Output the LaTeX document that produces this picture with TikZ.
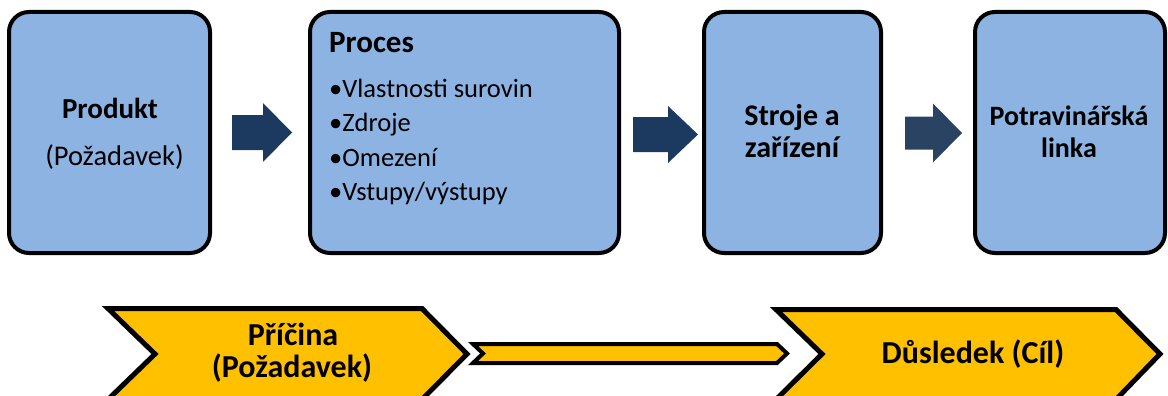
\documentclass[tikz,border=0pt]{standalone}
\usepackage{fontspec}
\setmainfont{Carlito}
\definecolor{boxblue}{HTML}{8DB3E2}
\definecolor{navy}{HTML}{1C3A5F}
\definecolor{navyb}{HTML}{2A4363}
\definecolor{gold}{HTML}{FFC000}
\begin{document}
\begin{tikzpicture}[x=1pt,y=-1pt,
  box/.style={draw=black, line width=4pt, fill=boxblue, rounded corners=20pt, inner sep=0pt},
  txt/.style={font=\fontsize{28.5}{32}\selectfont, inner sep=0pt, anchor=base},
  btxt/.style={font=\fontsize{29}{32}\selectfont\bfseries, inner sep=0pt, anchor=base},
  bigtxt/.style={font=\fontsize{32}{36}\selectfont\bfseries, inner sep=0pt, anchor=base},
  ltxt/.style={font=\fontsize{26.5}{30}\selectfont, inner sep=0pt, anchor=base west},
  chev/.style={draw=black, line width=5pt, fill=gold, line join=miter}]
\useasboundingbox (0,0) rectangle (1168,396);
\clip (0,0) rectangle (1168,396);
% boxes
\node[box, minimum width=201pt, minimum height=241pt] (b1) at (109.5,132.5) {};
\node[box, minimum width=309pt, minimum height=241pt] (b2) at (464.5,132.5) {};
\node[box, minimum width=177pt, minimum height=241pt] (b3) at (792.5,132.5) {};
\node[box, minimum width=190pt, minimum height=241pt] (b4) at (1070,132.5) {};
% box texts
\node[btxt] (t1a) at (110,118) {Produkt};
\node[txt] (t1b) at (114.5,165) {(Požadavek)};
\node[btxt, font=\fontsize{31}{34}\selectfont\bfseries, anchor=base west] (t2) at (329,53) {Proces};
\node[ltxt] (l1) at (329,97) {•Vlastnosti surovin};
\node[ltxt] (l2) at (329,131.5) {•Zdroje};
\node[ltxt] (l3) at (329,166) {•Omezení};
\node[ltxt] (l4) at (329,200.5) {•Vstupy/výstupy};
\node[btxt, font=\fontsize{30}{34}\selectfont\bfseries] (t3a) at (792,125) {Stroje a};
\node[btxt, font=\fontsize{30}{34}\selectfont\bfseries] (t3b) at (792,157) {zařízení};
\node[btxt, font=\fontsize{28}{32}\selectfont\bfseries] (t4a) at (1069,125) {Potravinářská};
\node[btxt, font=\fontsize{28}{32}\selectfont\bfseries] (t4b) at (1069,157) {linka};
% block arrows
\coordinate (a1) at (232,132.5);
\coordinate (a2) at (633,134.5);
\coordinate (a3) at (905,133);
\fill[navy] (a1) ++(0,-17.5) -- ++(31,0) -- ++(0,-12) -- ++(29,29.5) -- ++(-29,29.5) -- ++(0,-12) -- ++(-31,0) -- cycle;
\fill[navy] (a2) ++(0,-17.5) -- ++(35,0) -- ++(0,-11) -- ++(30,28.5) -- ++(-30,28.5) -- ++(0,-11) -- ++(-35,0) -- cycle;
\fill[navyb] (a3) ++(0,-16.5) -- ++(28,0) -- ++(0,-13) -- ++(29,29.5) -- ++(-29,29.5) -- ++(0,-13) -- ++(-28,0) -- cycle;
% chevrons
\draw[chev] (108,308.5) coordinate (c1) -- (422,308.5) -- (467,354) coordinate (c1tip) -- (422,399.5) -- (108,399.5) -- (155,354) -- cycle;
\draw[chev, line width=4pt] (473,344) coordinate (c2) -- (777,344) -- (787,353.5) coordinate (c2tip) -- (777,363) -- (473,363) -- (483,353.5) -- cycle;
\draw[chev] (776,309.5) coordinate (c3) -- (1116,309.5) -- (1160,354) coordinate (c3tip) -- (1116,399.5) -- (776,399.5) -- (822,354) -- cycle;
\node[bigtxt] (p1) at (293,345) {Příčina};
\node[bigtxt] (p2) at (292,377) {(Požadavek)};
\node[bigtxt] (d1) at (973,363) {Důsledek (Cíl)};
\end{tikzpicture}
\end{document}
